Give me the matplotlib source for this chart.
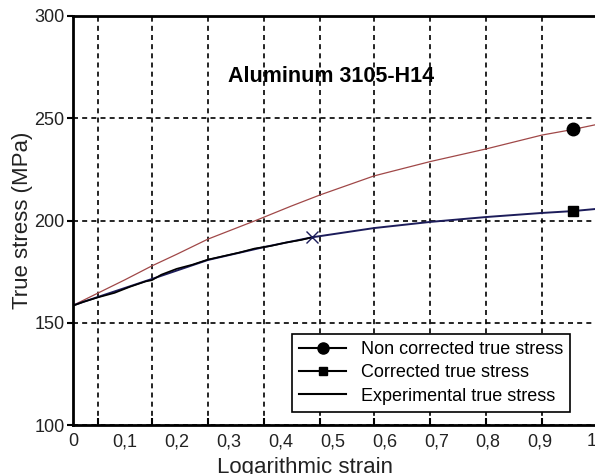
import matplotlib
matplotlib.use('Agg')
import matplotlib.pyplot as plt
from matplotlib.lines import Line2D

plt.rc('font', family='Liberation Sans', size=13)

# strain / stress values
x_nc = [0, 0.048, 0.10, 0.152, 0.20, 0.26, 0.355, 0.42, 0.476, 0.58, 0.688, 0.796, 0.904, 0.963, 1.01]
y_nc = [158.5, 164.5, 171.0, 177.8, 183.5, 190.9, 200.3, 207.0, 212.5, 221.8, 228.8, 235.0, 241.8, 244.5, 247.0]

x_c = [0, 0.048, 0.152, 0.26, 0.368, 0.461, 0.58, 0.688, 0.796, 0.904, 0.963, 1.01]
y_c = [158.5, 162.6, 171.4, 180.7, 187.0, 191.8, 196.3, 199.3, 201.7, 203.7, 204.6, 205.7]

x_exp = [0, 0.02, 0.048, 0.08, 0.11, 0.14, 0.152, 0.17, 0.2, 0.23, 0.26, 0.29, 0.32, 0.35, 0.38, 0.41, 0.44, 0.461]
y_exp = [158.3, 160.2, 162.4, 164.6, 167.6, 170.2, 170.8, 173.5, 176.4, 178.4, 180.9, 182.6, 184.3, 186.3, 187.5, 189.2, 190.5, 191.8]

marker_x = 0.963
xtick_vals = [0, 0.1, 0.2, 0.3, 0.4, 0.5, 0.6, 0.7, 0.8, 0.9, 1.0]
xtick_labels = ['0', '0,1', '0,2', '0,3', '0,4', '0,5', '0,6', '0,7', '0,8', '0,9', '1']
grid_x = [0.048, 0.152, 0.260, 0.368, 0.476, 0.580, 0.688, 0.796, 0.904, 1.012]
ytick_vals = [100, 150, 200, 250, 300]
labels = ['Non corrected true stress', 'Corrected true stress', 'Experimental true stress']

fig = plt.figure(figsize=(5.95, 4.74), dpi=100)
ax = fig.add_axes([73/595, 49/474, 552/595, 409/474])

ax.plot(x_nc, y_nc, color='#a04848', lw=0.9)
ax.plot(x_c, y_c, color='#1c1c5a', lw=1.4)
ax.plot(x_exp, y_exp, color='#000000', lw=1.2)
ax.plot([marker_x], [y_nc[x_nc.index(marker_x)]], 'o', color='black', ms=9)
ax.plot([marker_x], [y_c[x_c.index(marker_x)]], 's', color='black', ms=6.5)
ax.plot([x_exp[-1]], [y_exp[-1]], 'x', color='#1c1c5a', ms=9, mew=1.0)

ax.set_xlim(0, 1.0636)
ax.set_ylim(100, 300)
ax.set_xticks(xtick_vals)
ax.set_xticklabels(xtick_labels)
ax.set_xticks(grid_x, minor=True)
ax.set_yticks(ytick_vals)
ax.tick_params(axis='x', which='major', length=0, pad=6, colors='#222222')
ax.tick_params(axis='x', which='minor', direction='in', length=5, width=1.5)
ax.tick_params(axis='y', direction='out', length=4, width=1.5, pad=2, labelcolor='#222222')

ax.xaxis.grid(True, which='minor', color='black', ls=(0, (3, 2.5)), lw=1.2)
ax.yaxis.grid(True, which='major', color='black', ls=(0, (3, 2.5)), lw=1.2)
ax.xaxis.grid(False, which='major')

for s in ax.spines.values():
    s.set_linewidth(2)

ax.set_xlabel('Logarithmic strain', fontsize=16, color='#222222')
ax.set_ylabel('True stress (MPa)', fontsize=16, labelpad=1, color='#222222')
ax.xaxis.set_label_coords(0.42, -0.078)
ax.text(0.468, 0.852, 'Aluminum 3105-H14', transform=ax.transAxes,
        ha='center', va='center', fontsize=15.5, fontweight='bold')

handles = [Line2D([], [], color='black', marker='o', ms=8),
           Line2D([], [], color='black', marker='s', ms=5.5),
           Line2D([], [], color='black')]
leg = ax.legend(handles, labels, loc='lower left', bbox_to_anchor=(0.397, 0.032),
                borderaxespad=0, fancybox=False, framealpha=1, edgecolor='black',
                fontsize=13, handlelength=2.6, labelspacing=0.35, borderpad=0.4)
leg.get_frame().set_linewidth(1.2)

fig.savefig('out.png', dpi=100)
